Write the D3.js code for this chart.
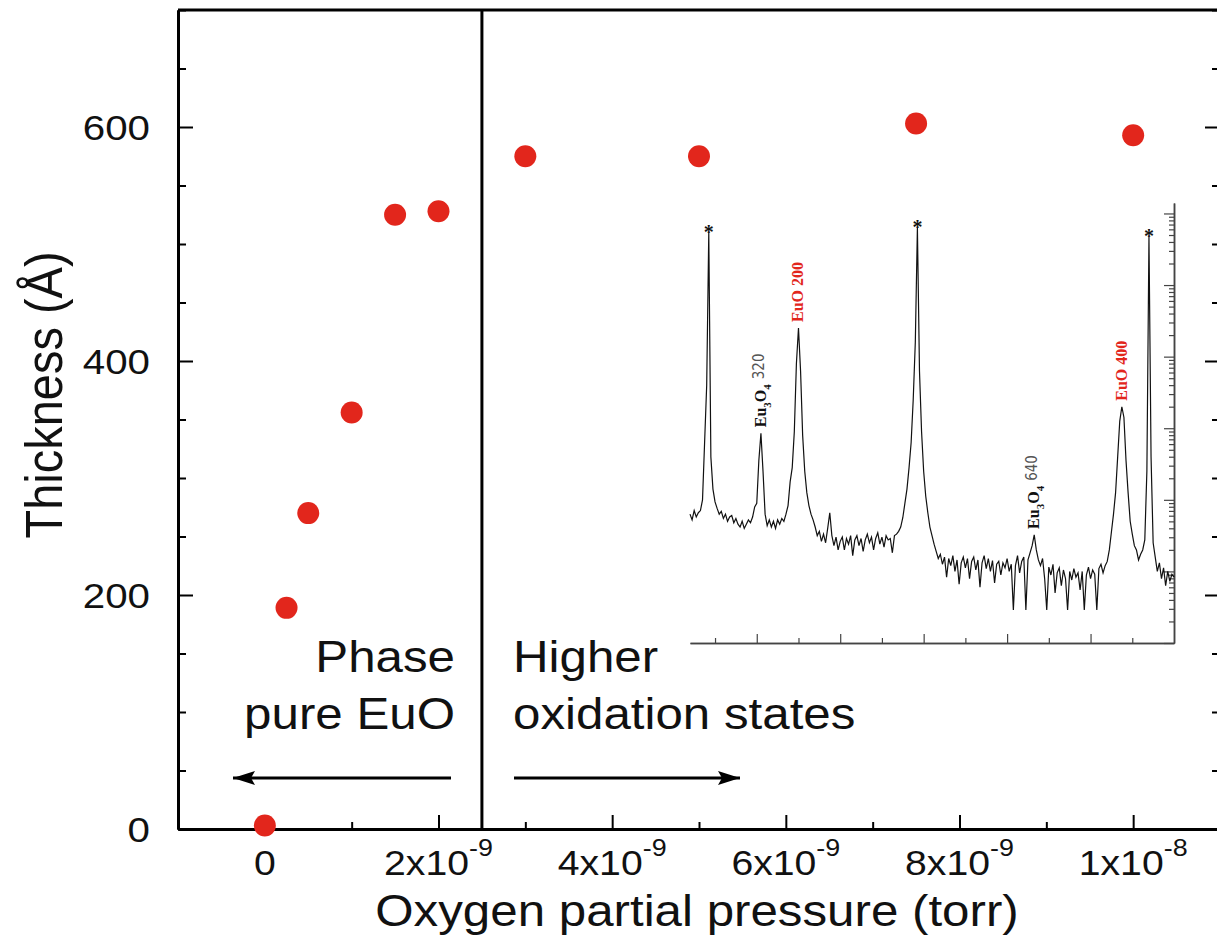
<!DOCTYPE html>
<html>
<head>
<meta charset="utf-8">
<script src="https://cdn.jsdelivr.net/npm/d3@7"></script>
<style>
    body { margin: 0; background: #fff; }
    svg { display: block; }
</style>
</head>
<body>
<svg id="chart" width="1217" height="942"></svg>
<script>
// Film thickness vs oxygen partial pressure
const pressure = [0, 0.25e-9, 0.5e-9, 1e-9, 1.5e-9, 2e-9, 3e-9, 5e-9, 7.5e-9, 1e-8];
const thickness = [3, 189, 270, 356, 525, 528, 575, 575, 603, 593];

const xMajorTicks = [0, 2e-9, 4e-9, 6e-9, 8e-9, 1e-8];
const xMinorTicks = [-1e-9, 1e-9, 3e-9, 5e-9, 7e-9, 9e-9, 1.1e-8];
const xTickMantissa = ['0', '2x10', '4x10', '6x10', '8x10', '1x10'];
const xTickExponent = ['', '-9', '-9', '-9', '-9', '-8'];
const yMajorTicks = [0, 200, 400, 600];
const yMinorTicks = [50, 100, 150, 250, 300, 350, 450, 500, 550, 650, 700];
const phaseBoundary = 2.5e-9;

// Inset: XRD scan (log10 counts), sampled every 0.25 deg starting at 12 deg
const xrdStart = 12;
const xrdStep = 0.25;
const xrdLogCounts = [
    1.80, 1.72, 1.85, 1.76,  1.82, 1.85, 2.00, 2.80,  3.60, 5.73, 2.60, 2.15,
    1.97, 1.88, 1.80, 1.84,  1.74, 1.80, 1.70, 1.76,  1.78, 1.68, 1.74, 1.66,
    1.62, 1.70, 1.60, 1.66,  1.72, 1.68, 1.76, 1.90,  1.95, 2.55, 2.93, 2.40,
    1.80, 1.64, 1.72, 1.62,  1.70, 1.60, 1.72, 1.66,  1.74, 1.70, 1.80, 1.92,
    2.25, 2.45, 2.95, 3.90,  4.40, 3.80, 2.90, 2.40,  2.10, 1.92, 1.80, 1.72,
    1.62, 1.50, 1.56, 1.42,  1.52, 1.40, 1.60, 1.82,  1.50, 1.36, 1.48, 1.30,
    1.42, 1.48, 1.30, 1.46,  1.38, 1.50, 1.22, 1.44,  1.50, 1.36, 1.46, 1.28,
    1.44, 1.52, 1.40, 1.48,  1.30, 1.46, 1.54, 1.38,  1.48, 1.34, 1.50, 1.44,
    1.46, 1.26, 1.50, 1.52,  1.56, 1.62, 1.75, 1.95,  2.15, 2.45, 2.80, 3.40,
    4.20, 5.80, 3.80, 2.95,  2.40, 2.05, 1.82, 1.62,  1.50, 1.38, 1.28, 1.18,
    1.24, 1.10, 1.20, 0.92,  1.18, 1.08, 1.22, 1.00,  1.16, 0.82, 1.12, 1.20,
    1.05, 1.18, 0.90, 1.14,  1.20, 1.02, 1.16, 0.78,  1.12, 1.22, 1.04, 1.18,
    1.00, 1.15, 0.84, 1.10,  1.14, 0.95, 1.12, 1.05,  1.18, 1.00, 1.10, 0.46,
    1.08, 1.22, 0.98, 1.14,  1.20, 0.46, 1.16, 1.26,  1.36, 1.51, 1.30, 1.16,
    1.08, 1.18, 0.90, 0.46,  1.06, 0.95, 1.10, 0.70,  0.98, 1.05, 0.80, 1.02,
    0.90, 0.46, 1.00, 0.88,  1.04, 0.92, 0.98, 0.74,  1.00, 0.46, 0.95, 1.06,
    0.90, 1.02, 0.96, 0.46,  1.04, 1.10, 0.98, 1.08,  1.14, 1.30, 1.55, 1.80,
    2.10, 2.60, 3.10, 3.30,  3.15, 2.55, 2.10, 1.70,  1.52, 1.36, 1.30, 1.16,
    1.24, 1.30, 1.44, 2.40,  5.67, 2.60, 1.40, 1.20,  1.00, 1.12, 0.90, 1.05,
    0.80, 1.00, 0.86, 0.96,  0.92
];
const xrdTicks = [15, 20, 25, 30, 35, 40, 45, 50, 55, 60, 65];
const substratePeaks = [14.25, 39.25, 67.0];
const euoPeaks = [25.0, 63.75];
const euoLabels = ['EuO 200', 'EuO 400'];
const eu3o4Peaks = [20.5, 53.25];
const eu3o4Labels = ['320', '640'];

const FONT = "'Liberation Sans', Arial, Helvetica, sans-serif";
const SERIF = "'Liberation Serif', 'Times New Roman', serif";
const stretch = 1.12;
const red = '#e2261c';

const svg = d3.select('#chart');
svg.append('rect').attr('width', 1217).attr('height', 942).attr('fill', '#fff');

// Scales
const x = d3.scaleLinear().domain([-1e-9, 1.1e-8]).range([178, 1220]);
const y = d3.scaleLinear().domain([0, 700]).range([829, 10]);

const frame = svg.append('g');

function drawAxis(axis, transform, size) {
    const g = frame.append('g')
        .attr('transform', transform)
        .call(axis.tickSizeInner(size).tickSizeOuter(0).tickFormat(''));
    g.selectAll('line').attr('stroke', '#000').attr('stroke-width', 2);
    g.select('.domain').attr('stroke', '#000').attr('stroke-width', 3);
    return g;
}

// Left / right / bottom axes, ticks pointing inward
drawAxis(d3.axisLeft(y).tickValues(yMinorTicks), `translate(${x.range()[0]},0)`, -8);
drawAxis(d3.axisLeft(y).tickValues(yMajorTicks), `translate(${x.range()[0]},0)`, -15);
drawAxis(d3.axisRight(y).tickValues(yMinorTicks), `translate(${x.range()[1]},0)`, -8);
drawAxis(d3.axisRight(y).tickValues(yMajorTicks), `translate(${x.range()[1]},0)`, -15);
drawAxis(d3.axisBottom(x).tickValues(xMinorTicks), `translate(0,${y(0)})`, -7);
drawAxis(d3.axisBottom(x).tickValues(xMajorTicks), `translate(0,${y(0)})`, -14);

// top border
frame.append('line')
    .attr('x1', x.range()[0]).attr('x2', x.range()[1])
    .attr('y1', y(700)).attr('y2', y(700))
    .attr('stroke', '#000').attr('stroke-width', 3);

// stretched text helper (original figure is slightly wide)
function label(parent, px, py, str, size, anchor) {
    return parent.append('text')
        .attr('transform', `translate(${px},${py}) scale(${stretch},1)`)
        .attr('text-anchor', anchor || 'start')
        .attr('font-family', FONT)
        .attr('font-size', size)
        .attr('fill', '#111')
        .text(str);
}

// Y tick labels
yMajorTicks.forEach(v => {
    label(svg, 150, y(v) + 13, String(v), 36, 'end');
});

// X tick labels with superscript exponent
xMajorTicks.forEach((v, i) => {
    const t = svg.append('text')
        .attr('transform', `translate(${x(v)},875) scale(${stretch},1)`)
        .attr('text-anchor', 'middle')
        .attr('font-family', FONT)
        .attr('font-size', 35)
        .attr('fill', '#111');
    t.append('tspan').text(xTickMantissa[i]);
    if (xTickExponent[i]) {
        t.append('tspan').attr('dy', -19).attr('font-size', 24).text(xTickExponent[i]);
    }
});

// Axis titles
label(svg, 697, 926, 'Oxygen partial pressure (torr)', 44, 'middle');
svg.append('text')
    .attr('transform', `translate(62,395) scale(${stretch},1) rotate(-90)`)
    .attr('text-anchor', 'middle')
    .attr('font-family', FONT)
    .attr('font-size', 47)
    .attr('fill', '#111')
    .text('Thickness (Å)');

// Phase boundary
svg.append('line')
    .attr('x1', x(phaseBoundary)).attr('x2', x(phaseBoundary))
    .attr('y1', y(0)).attr('y2', y(700))
    .attr('stroke', '#000').attr('stroke-width', 3);

// Region annotations
label(svg, 455, 672, 'Phase', 44, 'end');
label(svg, 455, 729, 'pure EuO', 44, 'end');
label(svg, 513, 672, 'Higher', 44, 'start');
label(svg, 513, 729, 'oxidation states', 44, 'start');

svg.append('defs').append('marker')
    .attr('id', 'head')
    .attr('viewBox', '0 0 22 14')
    .attr('refX', 22).attr('refY', 7)
    .attr('markerWidth', 22).attr('markerHeight', 14)
    .attr('markerUnits', 'userSpaceOnUse')
    .attr('orient', 'auto')
    .append('path').attr('d', 'M0,0 L22,7 L0,14 L4,7 Z').attr('fill', '#000');

function arrow(x1, x2, py) {
    svg.append('line')
        .attr('x1', x1).attr('x2', x2).attr('y1', py).attr('y2', py)
        .attr('stroke', '#000').attr('stroke-width', 3)
        .attr('marker-end', 'url(#head)');
}
arrow(451, 233, 778);
arrow(514, 740, 778);

// ---------- Inset XRD scan ----------
const ix = d3.scaleLinear().domain([12, 70]).range([690, 1174]);
const iy = d3.scaleLog().domain([1, 1.4e6]).range([643, 203]);
const inset = svg.append('g');

const logTicks = iy.ticks();
const isDecade = v => Math.abs(Math.log10(v) - Math.round(Math.log10(v))) < 1e-6;

function insetAxis(axis, transform) {
    const g = inset.append('g').attr('transform', transform).call(axis);
    g.selectAll('line').attr('stroke', '#444').attr('stroke-width', 1.2);
    g.select('.domain').attr('stroke', '#444').attr('stroke-width', 1.5);
    g.selectAll('text').remove();
    return g;
}
insetAxis(d3.axisBottom(ix).tickValues(xrdTicks.filter(v => v % 10 !== 0))
    .tickSizeInner(-5).tickSizeOuter(0), `translate(0,${iy.range()[0]})`);
insetAxis(d3.axisBottom(ix).tickValues(xrdTicks.filter(v => v % 10 === 0))
    .tickSizeInner(-9).tickSizeOuter(0), `translate(0,${iy.range()[0]})`);
insetAxis(d3.axisRight(iy).tickValues(logTicks.filter(v => !isDecade(v)))
    .tickSizeInner(-5).tickSizeOuter(0), `translate(${ix.range()[1]},0)`);
insetAxis(d3.axisRight(iy).tickValues(logTicks.filter(isDecade))
    .tickSizeInner(-10).tickSizeOuter(0), `translate(${ix.range()[1]},0)`);

const xrd = xrdLogCounts.map((v, i) => ({ angle: xrdStart + i * xrdStep, counts: Math.pow(10, v) }));
const countsAt = a => xrd[Math.round((a - xrdStart) / xrdStep)].counts;

inset.append('path')
    .datum(xrd)
    .attr('fill', 'none')
    .attr('stroke', '#111')
    .attr('stroke-width', 1.2)
    .attr('stroke-linejoin', 'miter')
    .attr('d', d3.line().x(d => ix(d.angle)).y(d => iy(d.counts)));

// substrate peaks
substratePeaks.forEach(a => {
    inset.append('text')
        .attr('x', ix(a)).attr('y', iy(countsAt(a)) + 6)
        .attr('text-anchor', 'middle')
        .attr('font-family', SERIF)
        .attr('font-weight', 'bold')
        .attr('font-size', 20)
        .attr('fill', '#111')
        .text('*');
});

// EuO reflections (red)
euoPeaks.forEach((a, i) => {
    inset.append('text')
        .attr('transform', `translate(${ix(a) + 5},${iy(countsAt(a)) - 6}) rotate(-90)`)
        .attr('font-family', SERIF)
        .attr('font-weight', 'bold')
        .attr('font-size', 16)
        .attr('fill', red)
        .text(euoLabels[i]);
});

// Eu3O4 reflections
eu3o4Peaks.forEach((a, i) => {
    const t = inset.append('text')
        .attr('transform', `translate(${ix(a) + 5},${iy(countsAt(a)) - 6}) rotate(-90)`)
        .attr('font-family', SERIF)
        .attr('font-weight', 'bold')
        .attr('font-size', 16)
        .attr('fill', '#111');
    t.append('tspan').text('Eu');
    t.append('tspan').attr('dy', 5).attr('font-size', 11).text('3');
    t.append('tspan').attr('dy', -5).text('O');
    t.append('tspan').attr('dy', 5).attr('font-size', 11).text('4');
    t.append('tspan').attr('dy', -7).attr('dx', 5)
        .attr('font-family', "'Liberation Sans Narrow', 'DejaVu Sans Condensed', sans-serif")
        .attr('font-weight', 'normal')
        .attr('font-size', 15)
        .attr('fill', '#555')
        .text(eu3o4Labels[i]);
});

// Data points
svg.append('g')
    .selectAll('circle')
    .data(pressure.map((p, i) => ({ p, t: thickness[i] })))
    .join('circle')
    .attr('cx', d => x(d.p))
    .attr('cy', d => y(d.t))
    .attr('r', 11)
    .attr('fill', red);
</script>
</body>
</html>
